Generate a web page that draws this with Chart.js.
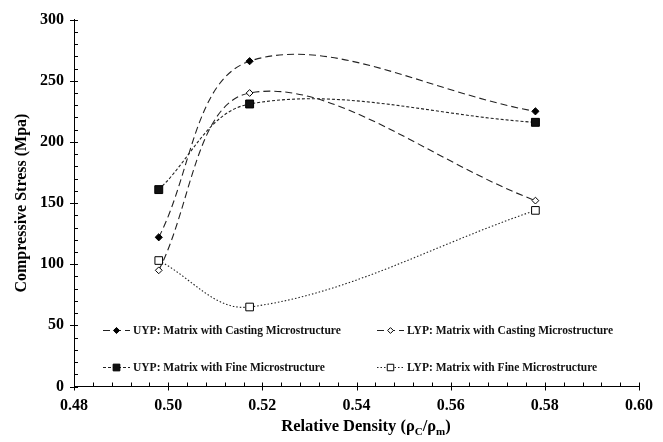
<!DOCTYPE html>
<html><head>
<meta charset="utf-8">
<script src="https://cdn.jsdelivr.net/npm/chart.js@4/dist/chart.umd.min.js"></script>
<style>html,body{margin:0;padding:0;background:#fff}#wrap{width:663px;height:442px}</style>
</head><body>
<div id="wrap"><canvas id="c"></canvas></div>
<script>
// ---- data ----
const densities = [0.498, 0.5173, 0.578];
const uypCasting = [122, 266, 225];
const lypCasting = [95, 240, 152];
const uypFine = [161, 231, 216];
const lypFine = [103, 65, 144];
const xTickValues = [0.48, 0.50, 0.52, 0.54, 0.56, 0.58, 0.60];
const yTickValues = [0, 50, 100, 150, 200, 250, 300];
const seriesNames = [
  'UYP: Matrix with Casting Microstructure',
  'LYP: Matrix with Casting Microstructure',
  'UYP: Matrix with Fine Microstructure',
  'LYP: Matrix with Fine Microstructure'
];

const SERIF = '"Liberation Serif", "Times New Roman", serif';
const toPts = arr => arr.map((v, i) => ({x: densities[i], y: v}));

const styles = [
  {dash: [7, 4], pointStyle: 'rectRot', radius: 3.6, fill: '#000'},
  {dash: [7, 4], pointStyle: 'rectRot', radius: 3.4, fill: '#fff'},
  {dash: [3, 2], pointStyle: 'rect', radius: 5.6, fill: '#111'},
  {dash: [1.5, 2], pointStyle: 'rect', radius: 5.4, fill: '#fff'}
];
const seriesData = [uypCasting, lypCasting, uypFine, lypFine];

const datasets = seriesData.map((d, i) => ({
  label: seriesNames[i],
  data: toPts(d),
  borderColor: '#222',
  borderWidth: 1.1,
  borderDash: styles[i].dash,
  tension: 0.36,
  fill: false,
  pointStyle: styles[i].pointStyle,
  pointRadius: styles[i].radius,
  pointBackgroundColor: styles[i].fill,
  pointBorderColor: '#000',
  pointBorderWidth: 1
}));

const decorPlugin = {
  id: 'decor',
  afterDraw(chart) {
    const ctx = chart.ctx;
    const xs = chart.scales.x, ys = chart.scales.y;
    const ca = chart.chartArea;
    ctx.save();
    ctx.strokeStyle = '#000';
    ctx.lineWidth = 1;
    ctx.setLineDash([]);
    // x minor/major ticks
    for (let k = 0; k <= 30; k++) {
      const v = 0.48 + k * 0.004;
      const px = Math.round(xs.getPixelForValue(v)) + 0.5;
      ctx.beginPath();
      if (k % 5 === 0) { ctx.moveTo(px, ca.bottom - 4); ctx.lineTo(px, ca.bottom + 4); }
      else { ctx.moveTo(px, ca.bottom - 4); ctx.lineTo(px, ca.bottom); }
      ctx.stroke();
    }
    // y minor/major ticks
    for (let k = 0; k <= 30; k++) {
      const v = k * 10;
      const py = Math.round(ys.getPixelForValue(v)) + 0.5;
      ctx.beginPath();
      if (k % 5 === 0) { ctx.moveTo(ca.left - 4, py); ctx.lineTo(ca.left + 4, py); }
      else { ctx.moveTo(ca.left, py); ctx.lineTo(ca.left + 4, py); }
      ctx.stroke();
    }
    // x axis title with subscripts
    ctx.fillStyle = '#000';
    ctx.textBaseline = 'alphabetic';
    const big = 'bold 16.5px ' + SERIF, small = 'bold 11px ' + SERIF;
    const parts = [['Relative Density (\u03C1', big, 0], ['C', small, 4], ['/\u03C1', big, 0], ['m', small, 4], [')', big, 0]];
    let total = 0;
    parts.forEach(p => { ctx.font = p[1]; total += ctx.measureText(p[0]).width; });
    let x = 366 - total / 2;
    const baseY = 431;
    parts.forEach(p => { ctx.font = p[1]; ctx.fillText(p[0], x, baseY + p[2]); x += ctx.measureText(p[0]).width; });
    // legend
    const pos = [[103, 330], [377, 330], [103, 367], [377, 367]];
    ctx.font = 'bold 11.5px ' + SERIF;
    ctx.textBaseline = 'middle';
    chart.data.datasets.forEach((ds, i) => {
      const [lx, ly] = pos[i];
      ctx.save();
      ctx.strokeStyle = '#222';
      ctx.lineWidth = 1.1;
      ctx.setLineDash(ds.borderDash);
      ctx.beginPath(); ctx.moveTo(lx, ly + 0.5); ctx.lineTo(lx + 27, ly + 0.5); ctx.stroke();
      ctx.restore();
      ctx.save();
      ctx.fillStyle = ds.pointBackgroundColor;
      ctx.strokeStyle = '#000';
      ctx.lineWidth = 1;
      Chart.helpers.drawPoint(ctx, {pointStyle: ds.pointStyle, radius: ds.pointRadius * 0.85, borderWidth: 1}, lx + 13.5, ly + 0.5);
      ctx.restore();
      ctx.fillStyle = '#111';
      ctx.fillText(ds.label, lx + 30, ly + 1);
    });
    ctx.restore();
  }
};

new Chart(document.getElementById('c'), {
  type: 'line',
  data: {datasets},
  options: {
    responsive: true,
    maintainAspectRatio: false,
    animation: false,
    events: [],
    layout: {padding: {top: 17, right: 17, left: 0, bottom: 0}},
    plugins: {legend: {display: false}, tooltip: {enabled: false}},
    scales: {
      x: {
        type: 'linear', min: 0.48, max: 0.60,
        afterBuildTicks: s => { s.ticks = xTickValues.map(v => ({value: v})); },
        afterFit: s => { s.height = 55.5; },
        ticks: {callback: v => Number(v).toFixed(2), color: '#000', padding: 10, maxRotation: 0, autoSkip: false,
                font: {family: SERIF, weight: 'bold', size: 16}},
        grid: {display: false, drawTicks: false},
        border: {display: true, color: '#000', width: 1}
      },
      y: {
        type: 'linear', min: 0, max: 300,
        afterBuildTicks: s => { s.ticks = yTickValues.map(v => ({value: v})); },
        afterFit: s => { s.width = 74; },
        ticks: {color: '#000', padding: 10, autoSkip: false,
                font: {family: SERIF, weight: 'bold', size: 16}},
        grid: {display: false, drawTicks: false},
        border: {display: true, color: '#000', width: 1},
        title: {display: true, text: 'Compressive Stress (Mpa)', color: '#000',
                font: {family: SERIF, weight: 'bold', size: 16}, padding: {top: 12, bottom: 0}}
      }
    }
  },
  plugins: [decorPlugin]
});
</script>
</body></html>
